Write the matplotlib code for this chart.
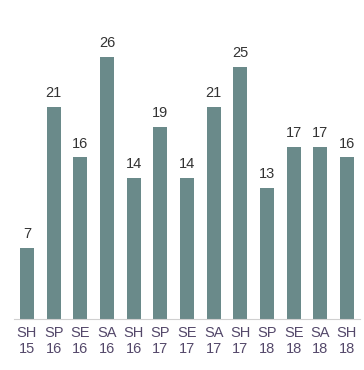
import matplotlib
matplotlib.use('Agg')
import matplotlib.pyplot as plt

plt.rcParams['font.family'] = ['Liberation Sans', 'DejaVu Sans']

labels = ['SH\n15', 'SP\n16', 'SE\n16', 'SA\n16', 'SH\n16', 'SP\n17', 'SE\n17',
          'SA\n17', 'SH\n17', 'SP\n18', 'SE\n18', 'SA\n18', 'SH\n18']
values = [7, 21, 16, 26, 14, 19, 14, 21, 25, 13, 17, 17, 16]

fig = plt.figure(figsize=(3.64, 3.70), dpi=100)
ax = fig.add_axes([13.7/364, 51/370, (360.3-13.7)/364, 319/370])

x = list(range(len(values)))
bars = ax.bar(x, values, width=0.53, color='#6a8a8a')

for b, v in zip(bars, values):
    ax.annotate(str(v), (b.get_x() + b.get_width()/2, v), xytext=(0, 5),
                textcoords='offset points', ha='center', va='bottom',
                fontsize=10.5, color='#333333')

ax.set_xlim(-0.5, 12.5)
ax.set_ylim(0, 31.6)
ax.set_xticks(x)
ax.set_xticklabels(labels, fontsize=10.5, color='#54486a', linespacing=1.2)
ax.tick_params(axis='x', length=0, pad=5)
ax.set_yticks([])
for s in ['top', 'right', 'left']:
    ax.spines[s].set_visible(False)
ax.spines['bottom'].set_color('#d0d0d0')

fig.savefig('out.png', dpi=100)
